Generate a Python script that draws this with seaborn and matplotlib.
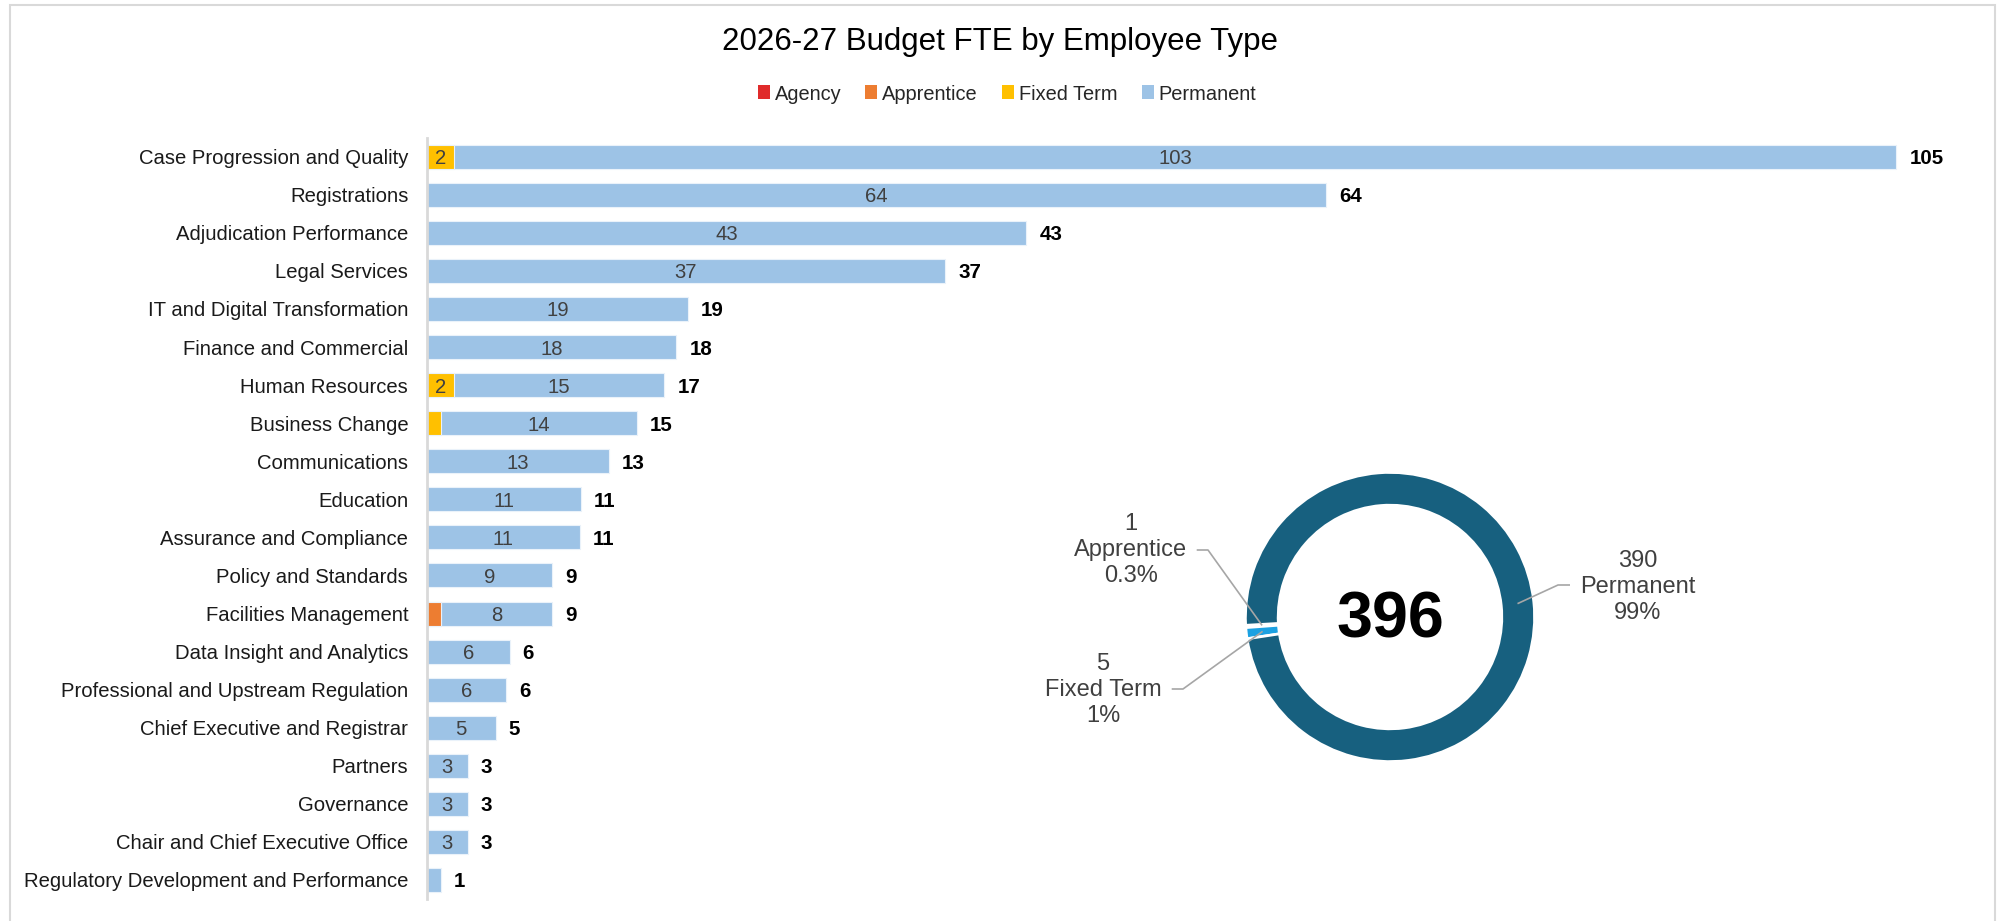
import numpy as np
import pandas as pd
import matplotlib
matplotlib.use("Agg")
import matplotlib.pyplot as plt
from matplotlib.patches import Patch, Rectangle
import seaborn as sns

# ---- data -------------------------------------------------------------
teams = [
    "Case Progression and Quality",
    "Registrations",
    "Adjudication Performance",
    "Legal Services",
    "IT and Digital Transformation",
    "Finance and Commercial",
    "Human Resources",
    "Business Change",
    "Communications",
    "Education",
    "Assurance and Compliance",
    "Policy and Standards",
    "Facilities Management",
    "Data Insight and Analytics",
    "Professional and Upstream Regulation",
    "Chief Executive and Registrar",
    "Partners",
    "Governance",
    "Chair and Chief Executive Office",
    "Regulatory Development and Performance",
]
agency = [0, 0, 0, 0, 0, 0, 0, 0, 0, 0, 0, 0, 0, 0, 0, 0, 0, 0, 0, 0]
apprentice = [0, 0, 0, 0, 0, 0, 0, 0, 0, 0, 0, 0, 1.0, 0, 0, 0, 0, 0, 0, 0]
fixed_term = [1.95, 0, 0, 0, 0, 0, 1.95, 1.0, 0, 0, 0, 0, 0, 0, 0, 0, 0, 0, 0, 0]
permanent = [103.0, 64.2, 42.8, 37.0, 18.65, 17.8, 15.0, 14.0, 13.0, 11.0,
             10.9, 8.95, 7.95, 5.9, 5.65, 4.9, 2.9, 2.9, 2.9, 1.0]

types = ["Agency", "Apprentice", "Fixed Term", "Permanent"]
bar_colors = ["#E02B2B", "#ED7D31", "#FFC000", "#9DC3E6"]
donut_colors = {"Apprentice": "#5BB4E5", "Fixed Term": "#1BA1E2", "Permanent": "#17607F"}

df = pd.DataFrame({"team": teams, "Agency": agency, "Apprentice": apprentice,
                   "Fixed Term": fixed_term, "Permanent": permanent})

# ---- figure -----------------------------------------------------------
sns.set_theme(style="white")
plt.rcParams["font.family"] = ["Liberation Sans", "DejaVu Sans"]

W, H = 2000, 921
fig = plt.figure(figsize=(W / 100, H / 100), dpi=100)

# chart border
fig.add_artist(Rectangle((10 / W, -0.02), 1985 / W, 1 - 5 / H + 0.02,
                         transform=fig.transFigure, fill=False,
                         edgecolor="#D9D9D9", linewidth=1.5))

ax_left, ax_right = 427 / W, 1960 / W
ax_top, ax_bot = 1 - 137.7 / H, 22 / H
ax = fig.add_axes([ax_left, ax_bot, ax_right - ax_left, ax_top - ax_bot])

# stacked horizontal bars drawn as layered cumulative totals
cum = df[types].cumsum(axis=1)
for t, c in zip(reversed(types), reversed(bar_colors)):
    sns.barplot(x=cum[t].values, y=df["team"].values, orient="h", color=c,
                width=0.63, edgecolor="#EAF2FA", linewidth=0.8,
                order=teams, ax=ax, saturation=1)

ax.set_xlim(0, 109.5)
ax.set_ylim(len(teams) - 0.5, -0.5)
ax.set_xlabel("")
ax.set_ylabel("")
ax.set_xticks([])
for s in ["top", "right", "bottom"]:
    ax.spines[s].set_visible(False)
ax.spines["left"].set_color("#D9D9D9")
ax.spines["left"].set_linewidth(2)
ax.tick_params(axis="y", length=0, pad=13.5, labelsize=14.6, labelcolor="#1a1a1a")

# segment labels and totals
for i, row in df.iterrows():
    start = 0.0
    for t in types:
        v = row[t]
        if v >= 1.5:
            ax.text(start + v / 2, i, f"{v:.0f}", ha="center", va="center_baseline",
                    fontsize=14.6, color="#404040")
        start += v
    ax.annotate(f"{round(start):.0f}", xy=(start, i), xytext=(9.4, 0),
                textcoords="offset points", ha="left", va="center_baseline",
                fontsize=14.8, fontweight="bold", color="black")

# title and legend
fig.text(0.5, 1 - 42 / H, "2026-27 Budget FTE by Employee Type",
         ha="center", va="center", fontsize=22.5, color="black")
handles = [Patch(facecolor=c, edgecolor="none") for c in bar_colors]
fig.legend(handles, types, loc="center", bbox_to_anchor=(1007 / W, 1 - 94 / H),
           ncol=4, frameon=False, fontsize=14.4, handlelength=0.6,
           handleheight=0.7, handletextpad=0.25, columnspacing=1.2)

# ---- donut of totals by employee type ----------------------------------
totals = df[types].sum()
totals = totals[totals > 0]
grand = totals.sum()

cx, cy, half = 1390, 617, 200
dax = fig.add_axes([(cx - half) / W, 1 - (cy + half) / H, 2 * half / W, 2 * half / H])
r_out = 144.6 / half
r_in = 111.8 / half
wedges, _ = dax.pie(totals.values, colors=[donut_colors[k] for k in totals.index],
                    startangle=183.3, counterclock=True, radius=r_out,
                    wedgeprops=dict(width=r_out - r_in, edgecolor="white", linewidth=2))
dax.set_xlim(-1, 1)
dax.set_ylim(-1, 1)
dax.set_aspect("equal")
dax.axis("off")

dax.text(0, -0.015, f"{grand:.0f}", ha="center", va="center",
         fontsize=46.5, fontweight="bold", color="black")

# label text centre, elbow and end of the leader line for each slice
label_pos = {
    "Apprentice": ((-1.2965, 0.335), (-0.91, 0.335), (-0.9665, 0.335)),
    "Fixed Term": ((-1.435, -0.365), (-1.035, -0.36), (-1.0915, -0.36)),
    "Permanent": ((1.24, 0.15), (0.84, 0.16), (0.90, 0.16)),
}
r_mid = (r_out + r_in) / 2
for w, name in zip(wedges, totals.index):
    v = totals[name]
    pct = v / grand * 100
    pct_txt = f"{pct:.1f}%" if pct < 1 else f"{pct:.0f}%"
    (tx, ty), (ex, ey), (hx, hy) = label_pos[name]
    ang = np.deg2rad((w.theta1 + w.theta2) / 2)
    px, py = r_mid * np.cos(ang), r_mid * np.sin(ang)
    dax.plot([px, ex, hx], [py, ey, hy], color="#A6A6A6", lw=1.2,
             clip_on=False, solid_capstyle="butt")
    dax.text(tx, ty, f"{v:.0f}\n{name}\n{pct_txt}", ha="center", va="center",
             fontsize=17, color="#404040", linespacing=1.22, clip_on=False)

fig.savefig("out.png", dpi=100, facecolor="white")
